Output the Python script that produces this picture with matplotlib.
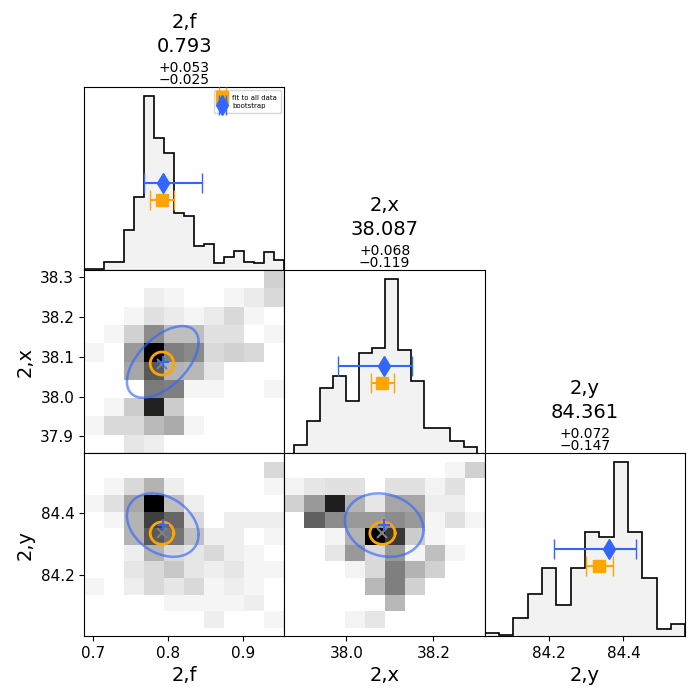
import numpy as np
import matplotlib.pyplot as plt

names = ["2,f", "2,x", "2,y"]

# ranges of the parameters
f_lim = (0.6875, 0.956)
x_lim = (37.858, 38.318)
y_lim = (84.03, 84.565)
y_axis_lim = (84.004, 84.593)

# 1D histograms (diagonal)
f_hist = [1, 1, 8, 8, 40, 73, 174, 132, 117, 57, 54, 24, 26, 7, 13, 19, 8, 7, 18, 10]
f_edges = np.linspace(f_lim[0], f_lim[1], len(f_hist) + 1)
x_hist = [8, 32, 65, 77, 52, 100, 105, 174, 103, 72, 25, 25, 12, 6]
x_edges = np.linspace(37.879, 38.299, len(x_hist) + 1)
y_hist = [3, 1, 18, 42, 68, 31, 68, 103, 98, 173, 103, 58, 7, 12]
y_edges = np.linspace(y_lim[0], y_lim[1], len(y_hist) + 1)

# 2D histograms, rows listed from top (high value) to bottom
H_fx = [
    [0, 0, 0, 0, 0, 0, 0, 0, 0, .18],
    [0, 0, 0, .07, .04, 0, 0, .04, .08, .15],
    [0, 0, .04, .12, .08, .04, .08, .15, .04, 0],
    [0, .04, .18, .45, .25, .25, .12, .12, 0, .04],
    [.04, 0, .40, 1.0, .50, .46, .15, .18, .15, 0],
    [0, 0, .35, .65, .30, .28, .10, 0, 0, 0],
    [0, 0, 0, .52, .50, .04, .04, 0, 0, .04],
    [0, .04, .20, .87, .20, 0, 0, 0, 0, 0],
    [.04, .15, .15, .27, .33, .04, 0, 0, 0, 0],
    [0, 0, .10, .07, 0, 0, 0, 0, 0, 0],
]
H_fy = [
    [0, 0, 0, 0, 0, 0, 0, 0, 0, .15],
    [0, .04, .15, .30, .07, 0, 0, 0, 0, .04],
    [.04, .12, .35, 1.0, .25, .07, 0, 0, 0, 0],
    [0, .04, .30, .75, .60, .15, 0, .07, .07, .07],
    [0, 0, .30, .65, .55, .25, .07, .07, 0, .04],
    [0, 0, .07, .30, .15, .10, .15, .07, .04, 0],
    [0, 0, .10, .15, .22, .10, .07, .10, .04, .04],
    [.04, 0, .07, .15, .10, .15, .04, .07, .04, 0],
    [0, 0, 0, 0, .04, .04, .04, .04, .07, 0],
    [0, 0, 0, 0, 0, 0, .07, 0, 0, .04],
]
H_xy = [
    [0, 0, 0, 0, 0, 0, 0, 0, .04, .18],
    [.05, .10, .12, .12, 0, .12, .12, .05, .12, 0],
    [.18, .40, .88, .30, .10, .35, .35, .07, .07, 0],
    [0, .62, .45, .40, .40, .45, .40, .04, .12, .04],
    [0, 0, .05, .30, 1.0, .78, .20, .04, 0, 0],
    [0, 0, .10, .40, .15, .40, .04, .25, .04, 0],
    [0, 0, 0, .05, .15, .50, .30, .18, 0, 0],
    [0, 0, 0, 0, .28, .50, .18, 0, 0, 0],
    [0, 0, 0, 0, 0, .28, 0, 0, 0, 0],
    [0, 0, 0, .05, .10, 0, 0, 0, 0, 0],
]

# fit to all data: value, symmetric error
fit_val = [0.792, 38.083, 84.335]
fit_err = [0.0155, 0.026, 0.036]
fit_ell = [0.0158, 0.029, 0.036]  # ellipse half-axes in 2D panels

# bootstrap: value, minus, plus
bs_val = [0.793, 38.087, 84.361]
bs_lo = [0.025, 0.107, 0.147]
bs_hi = [0.053, 0.063, 0.072]
bs_sig = [0.048, 0.090, 0.102]
bs_rho = {(1, 0): 0.55, (2, 0): -0.30, (2, 1): -0.15}

titles = ["0.793", "38.087", "84.361"]
title_err = [("+0.053", "\u22120.025"), ("+0.068", "\u22120.119"), ("+0.072", "\u22120.147")]

orange = "orange"
blue = "#3366ff"

fig, axes = plt.subplots(3, 3, figsize=(7, 7), dpi=100)
fig.subplots_adjust(left=0.12, right=0.979, bottom=0.0914, top=0.8757,
                    wspace=0, hspace=0)

lims = [f_lim, x_lim, y_lim]
row_lims = [None, x_lim, y_axis_lim]
hists = [(f_hist, f_edges), (x_hist, x_edges), (y_hist, y_edges)]
xticks = [[0.7, 0.8, 0.9], [38.0, 38.2], [84.2, 84.4]]
yticks = [None, [37.9, 38.0, 38.1, 38.2, 38.3], [84.2, 84.4]]
H2 = {(1, 0): H_fx, (2, 0): H_fy, (2, 1): H_xy}

t = np.linspace(0, 2 * np.pi, 200)


def head(ax, s, up, size):
    ax.annotate(s, xy=(0.5, 1), xycoords="axes fraction", xytext=(0, up),
                textcoords="offset points", ha="center", va="center",
                fontsize=size)


for i in range(3):
    for j in range(3):
        ax = axes[i, j]
        if j > i:
            ax.axis("off")
            continue
        ax.set_xlim(lims[j])
        ax.set_xticks(xticks[j])
        if i == j:
            vals, edges = hists[i]
            ax.stairs(vals, edges, fill=True, color="#f2f2f2")
            ax.stairs(vals, edges, color="black", lw=1.2)
            top = max(vals)
            ax.set_ylim(0, 1.05 * top)
            ax.set_yticks([])
            ax.errorbar(fit_val[i], 0.4 * top, xerr=fit_err[i], fmt="s",
                        color=orange, ms=8, capsize=7, elinewidth=1.5,
                        label="fit to all data")
            ax.errorbar(bs_val[i], 0.5 * top, xerr=[[bs_lo[i]], [bs_hi[i]]],
                        fmt="d", color=blue, ms=10, capsize=7, elinewidth=1.5,
                        label="bootstrap")
            head(ax, names[i], 46.5, 14)
            head(ax, titles[i], 29.5, 14)
            head(ax, title_err[i][0], 14.0, 10)
            head(ax, title_err[i][1], 4.8, 10)
            if i == 0:
                ax.legend(loc="upper right", fontsize=5, handlelength=1.2,
                          borderpad=0.6, labelspacing=0.3)
        else:
            H = np.flipud(np.array(H2[(i, j)]))
            xe = np.linspace(lims[j][0], lims[j][1], H.shape[1] + 1)
            ye = np.linspace(lims[i][0], lims[i][1], H.shape[0] + 1)
            ax.pcolormesh(xe, ye, H, cmap="gray_r", vmin=0, vmax=1)
            ax.set_ylim(row_lims[i])
            ax.set_yticks(yticks[i])
            # bootstrap ellipse
            rho = bs_rho[(i, j)]
            ex = bs_val[j] + bs_sig[j] * np.cos(t)
            ey = bs_val[i] + bs_sig[i] * (rho * np.cos(t) + np.sqrt(1 - rho ** 2) * np.sin(t))
            ax.plot(ex, ey, color=blue, alpha=0.65, lw=1.8)
            # fit ellipse
            ax.plot(fit_val[j] + fit_ell[j] * np.cos(t),
                    fit_val[i] + fit_ell[i] * np.sin(t), color=orange, lw=2)
            ax.plot(fit_val[j], fit_val[i], "x", color="#808080", ms=7, mew=1.5)
            ax.plot(bs_val[j], bs_val[i], "+", color=blue, ms=8, mew=1.5)
        if i == 2:
            ax.set_xlabel(names[j], fontsize=14)
            ax.tick_params(axis="x", labelsize=11)
        else:
            ax.tick_params(axis="x", bottom=False, labelbottom=False)
        if j == 0 and i > 0:
            ax.set_ylabel(names[i], fontsize=14)
            ax.tick_params(axis="y", labelsize=11)
        elif i != j:
            ax.tick_params(axis="y", left=False, labelleft=False)

fig.savefig("out.png", dpi=100)
